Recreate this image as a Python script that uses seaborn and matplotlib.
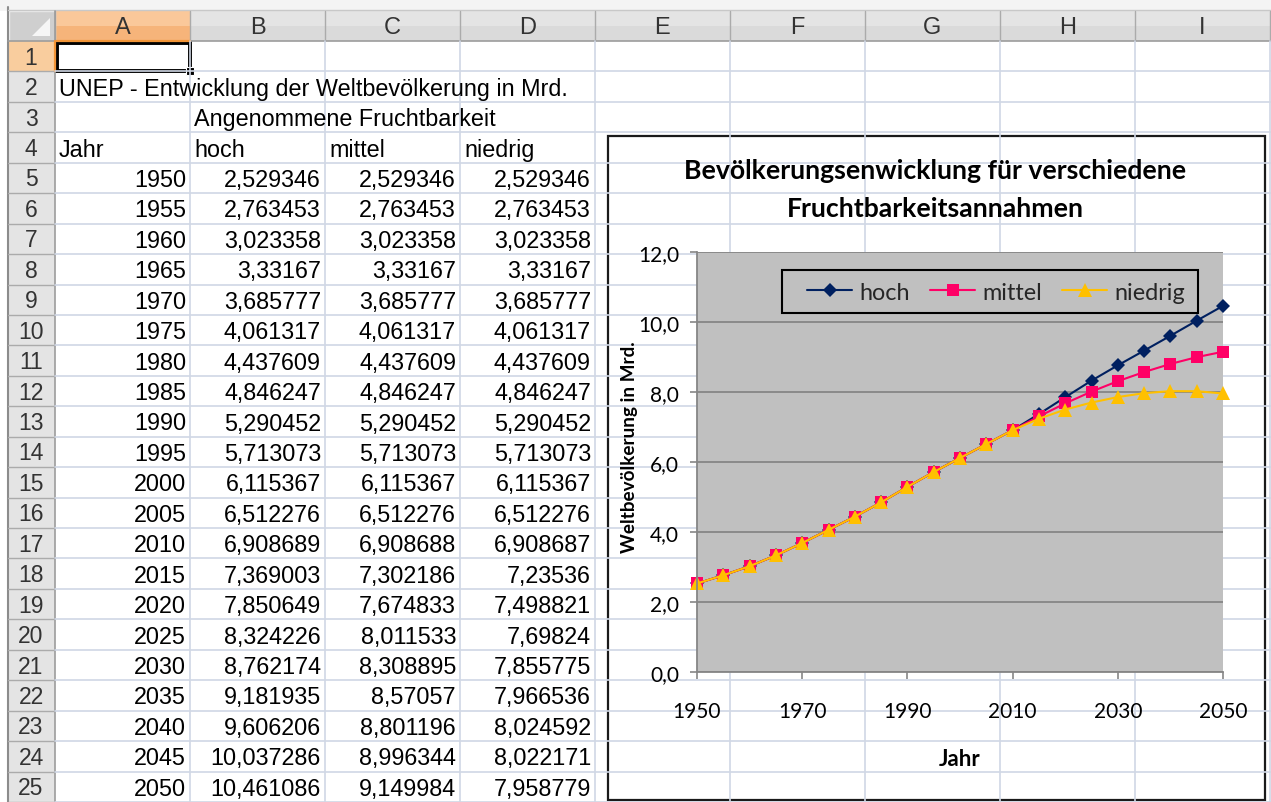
import matplotlib
matplotlib.use("Agg")
import matplotlib.pyplot as plt
import pandas as pd
import seaborn as sns
from matplotlib.patches import Rectangle, Polygon

# values from the sheet (UNEP, Mrd.)
jahre = [1950, 1955, 1960, 1965, 1970, 1975, 1980, 1985, 1990, 1995, 2000,
         2005, 2010, 2015, 2020, 2025, 2030, 2035, 2040, 2045, 2050]
hoch = [2.529346, 2.763453, 3.023358, 3.33167, 3.685777, 4.061317, 4.437609,
        4.846247, 5.290452, 5.713073, 6.115367, 6.512276, 6.908689, 7.369003,
        7.850649, 8.324226, 8.762174, 9.181935, 9.606206, 10.037286, 10.461086]
mittel = [2.529346, 2.763453, 3.023358, 3.33167, 3.685777, 4.061317, 4.437609,
          4.846247, 5.290452, 5.713073, 6.115367, 6.512276, 6.908688, 7.302186,
          7.674833, 8.011533, 8.308895, 8.57057, 8.801196, 8.996344, 9.149984]
niedrig = [2.529346, 2.763453, 3.023358, 3.33167, 3.685777, 4.061317, 4.437609,
           4.846247, 5.290452, 5.713073, 6.115367, 6.512276, 6.908687, 7.23536,
           7.498821, 7.69824, 7.855775, 7.966536, 8.024592, 8.022171, 7.958779]
reihen = ["hoch", "mittel", "niedrig"]
spalten = ["A", "B", "C", "D", "E", "F", "G", "H", "I"]
y_ticks = [0, 2, 4, 6, 8, 10, 12]
x_ticks = [1950, 1970, 1990, 2010, 2030, 2050]

farben = ["#002060", "#FF0066", "#FFC000"]
marker = ["D", "s", "^"]
msizes = [7.6, 8.8, 9.6]

W, H = 1271, 803
sheet_font = "Liberation Sans"
chart_font = "Lato"


def de(v):
    return f"{v:.6f}".rstrip("0").rstrip(".").replace(".", ",")


sns.set_theme(style="white")
plt.rcParams["font.family"] = [sheet_font, "DejaVu Sans"]

fig = plt.figure(figsize=(W / 100, H / 100), dpi=100)
bg = fig.add_axes([0, 0, 1, 1])
bg.set_xlim(0, W)
bg.set_ylim(H, 0)
bg.axis("off")

# --- spreadsheet grid ---
col_x = [55 + 135 * i for i in range(10)]
top, rh = 42, 30.44
row_y = [top + rh * i for i in range(26)]
grid_c = "#D0D7E5"
head_c = "#E4E4E4"
head_c2 = "#DADADA"
sep_c = "#ABABAB"

bg.add_patch(Rectangle((0, 0), W, 12, fc="#F4F4F4", ec="none"))
bg.plot([8, 8], [8, H], color="#8C8C8C", lw=1.5)
bg.plot([8, W], [11, 11], color="#C8C8C8", lw=1)

# column header (two-tone to hint at the gradient)
bg.add_patch(Rectangle((8, 12), W - 8, 15, fc=head_c, ec="none"))
bg.add_patch(Rectangle((8, 27), W - 8, 15, fc=head_c2, ec="none"))
bg.add_patch(Rectangle((col_x[0], 12), 135, 15, fc="#FAC89A", ec="none"))
bg.add_patch(Rectangle((col_x[0], 27), 135, 15, fc="#F6B47A", ec="none"))
for i, s in enumerate(spalten):
    bg.text(col_x[i] + 67.5, 28, s, ha="center", va="center", fontsize=17, color="#333333")
for x in col_x:
    bg.plot([x, x], [12, 42], color=sep_c, lw=1)
bg.plot([8, W], [42, 42], color="#9C9C9C", lw=1.2)
bg.plot([col_x[0], col_x[1]], [41.5, 41.5], color="#F29436", lw=1.6)

# corner cell
bg.add_patch(Rectangle((9, 12), 46, 30, fc="#CFCFCF", ec="#EDEDED", lw=1))
bg.add_patch(Polygon([[50, 19], [50, 37], [32, 37]], closed=True, fc="#F6F6F6", ec="none"))

# row header
for r in range(25):
    fc = "#F9CD9E" if r == 0 else head_c
    bg.add_patch(Rectangle((8, row_y[r]), 47, rh, fc=fc, ec="none"))
    bg.text(31, row_y[r] + rh / 2 + 1, str(r + 1), ha="center", va="center",
            fontsize=16.5, color="#333333")
    bg.plot([8, 55], [row_y[r + 1], row_y[r + 1]], color=sep_c, lw=1)
bg.plot([55, 55], [12, H], color="#9C9C9C", lw=1.2)
bg.plot([54.5, 54.5], [row_y[0], row_y[1]], color="#F29436", lw=1.6)

# cell grid
for x in col_x[1:]:
    bg.plot([x, x], [42, H], color=grid_c, lw=1.2)
for y in row_y[1:]:
    bg.plot([55, W], [y, y], color=grid_c, lw=1.2)

# cell contents
fs = 16.8


def cell(r, c, txt, right=False):
    y = row_y[r - 1] + rh / 2 + 1.5
    if right:
        bg.text(col_x[c + 1] - 4, y, txt, ha="right", va="center", fontsize=fs, color="black")
    else:
        bg.text(col_x[c] + 4, y, txt, ha="left", va="center", fontsize=fs, color="black")


cell(2, 0, "UNEP - Entwicklung der Weltbevölkerung in Mrd.")
cell(3, 1, "Angenommene Fruchtbarkeit")
cell(4, 0, "Jahr")
for c, n in enumerate(reihen):
    cell(4, c + 1, n)
for i, j in enumerate(jahre):
    cell(5 + i, 0, str(j), right=True)
    cell(5 + i, 1, de(hoch[i]), right=True)
    cell(5 + i, 2, de(mittel[i]), right=True)
    cell(5 + i, 3, de(niedrig[i]), right=True)

# active cell A1
bg.add_patch(Rectangle((col_x[0] + 1.5, row_y[0] + 1.5), 133, rh - 2, fc="white", ec="black", lw=2.8))
bg.add_patch(Rectangle((col_x[1] - 4, row_y[1] - 4), 8, 8, fc="black", ec="white", lw=0.8))

# --- embedded chart ---
cx0, cy0, cx1, cy1 = 608, 137, 1265, 801
bg.add_patch(Rectangle((cx0, cy0), cx1 - cx0, cy1 - cy0, fc="white", ec="#1A1A1A", lw=1.6))
bg.text(935, 171, "Bevölkerungsenwicklung für verschiedene", ha="center", va="center",
        fontsize=19.2, fontweight="bold", family=chart_font, color="black")
bg.text(935, 209, "Fruchtbarkeitsannahmen", ha="center", va="center",
        fontsize=19.2, fontweight="bold", family=chart_font, color="black")

px0, py0, px1, py1 = 697, 253, 1223, 673
ax = fig.add_axes([px0 / W, 1 - py1 / H, (px1 - px0) / W, (py1 - py0) / H])
ax.set_facecolor("#C0C0C0")

df = pd.DataFrame({
    "Jahr": jahre * 3,
    "Wert": hoch + mittel + niedrig,
    "Annahme": [n for n in reihen for _ in jahre],
})
sns.lineplot(data=df, x="Jahr", y="Wert", hue="Annahme", style="Annahme",
             hue_order=reihen, style_order=reihen, palette=farben, markers=marker,
             dashes=False, linewidth=1.5, markeredgewidth=0, legend=False, ax=ax)
for ln, ms in zip(ax.lines, msizes):
    ln.set_markersize(ms)
    ln.set_clip_on(False)

ax.set_xlim(1950, 2050)
ax.set_ylim(0, 12)
ax.set_yticks(y_ticks)
ax.set_yticklabels([f"{t},0" for t in y_ticks])
ax.set_xticks(x_ticks)
ax.set_xticklabels([str(t) for t in x_ticks])
ax.grid(axis="y", color="#868686", lw=1.3)
ax.grid(axis="x", visible=False)
ax.set_axisbelow(True)
for s in ["top", "right"]:
    ax.spines[s].set_visible(False)
for s in ["left", "bottom"]:
    ax.spines[s].set_color("#868686")
    ax.spines[s].set_linewidth(1.3)
ax.tick_params(axis="both", direction="out", length=5, width=1.2, color="#868686",
               labelsize=15, labelcolor="black")
ax.tick_params(axis="y", left=True, pad=8)
ax.tick_params(axis="x", bottom=True, pad=16)
for t in ax.get_xticklabels() + ax.get_yticklabels():
    t.set_family(chart_font)

ax.set_xlabel("Jahr", fontsize=16, fontweight="bold", family=chart_font, color="black")
ax.xaxis.set_label_coords(0.5, (py1 - 760) / (py1 - py0))
ax.xaxis.label.set_va("center")
ax.set_ylabel("Weltbevölkerung in Mrd.", fontsize=13.6, fontweight="bold", family=chart_font, color="black")
ax.yaxis.set_label_coords((630 - px0) / (px1 - px0), (py1 - 447) / (py1 - py0))
ax.yaxis.label.set_va("center")


def ax_x(px):
    return (px - px0) / (px1 - px0)


def ax_y(py):
    return (py1 - py) / (py1 - py0)


# legend: entries centred in a plain black box
leg = ax.legend(handles=ax.lines[:3], labels=reihen, ncol=3, loc="center",
                bbox_to_anchor=(ax_x(996), ax_y(293)), frameon=False,
                handlelength=1.95, handletextpad=0.3, columnspacing=0.85,
                borderaxespad=0, borderpad=0, prop={"family": chart_font, "size": 16.8})
ax.add_patch(Rectangle((ax_x(782), ax_y(314)), ax_x(1198) - ax_x(782), ax_y(271) - ax_y(314),
                       transform=ax.transAxes, fc="none", ec="black", lw=1.5, clip_on=False, zorder=5))

fig.savefig("out.png", dpi=100)
